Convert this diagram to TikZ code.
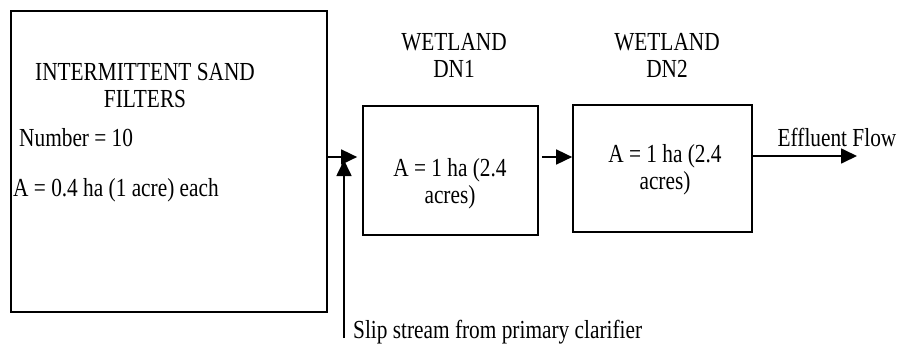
\documentclass[tikz,border=0pt]{standalone}
\usepackage{fontspec}
\setmainfont[FakeStretch=0.82]{Liberation Serif}
\usetikzlibrary{arrows.meta}
\begin{document}
\begin{tikzpicture}[x=1pt,y=-1pt,
  boxr/.style={draw,line width=1.7pt},
  txt/.style={inner sep=0pt,font=\fontsize{26}{27}\selectfont},
  arr/.style={line width=1.7pt,-{Triangle[length=16pt,width=15pt]}}]
\useasboundingbox (0,0) rectangle (900,346);
% boxes
\node[boxr,minimum width=316pt,minimum height=301pt,inner sep=0pt] (big) at (169,161.5) {};
\node[boxr,minimum width=175pt,minimum height=129pt,inner sep=0pt] (dn1) at (450.5,170.5) {};
\node[boxr,minimum width=179pt,minimum height=127pt,inner sep=0pt] (dn2) at (662.5,168.5) {};
% texts
\node[txt,align=center] (t1) at (145,86) {INTERMITTENT SAND\\FILTERS};
\node[txt,anchor=west] (t2) at (19,138) {Number = 10};
\node[txt,anchor=west] (t3) at (13,190) {A = 0.4 ha (1 acre) each};
\node[txt,align=center] (w1) at (454,55) {WETLAND\\DN1};
\node[txt,align=center] (w2) at (667,55) {WETLAND\\DN2};
\node[txt,align=center] (a1) at (450,184) {A = 1 ha (2.4\\acres)};
\node[txt,align=center] (a2) at (665,170) {A = 1 ha (2.4\\acres)};
\node[txt] (ef) at (837,137) {Effluent Flow};
\node[txt,anchor=west] (sl) at (353,332) {Slip stream from primary clarifier};
% connectors
\coordinate (j) at (344,157);
\coordinate (slipend) at (344,338);
\coordinate (out) at (857,156);
\draw[arr] (big.east |- j) -- ([xshift=-5pt]dn1.west |- j);
\draw[arr] (slipend) -- ([yshift=-3pt]j);
\draw[arr] ([xshift=3pt]dn1.east |- j) -- (dn2.west |- j);
\draw[arr] (dn2.east |- out) -- (out);
\end{tikzpicture}
\end{document}
